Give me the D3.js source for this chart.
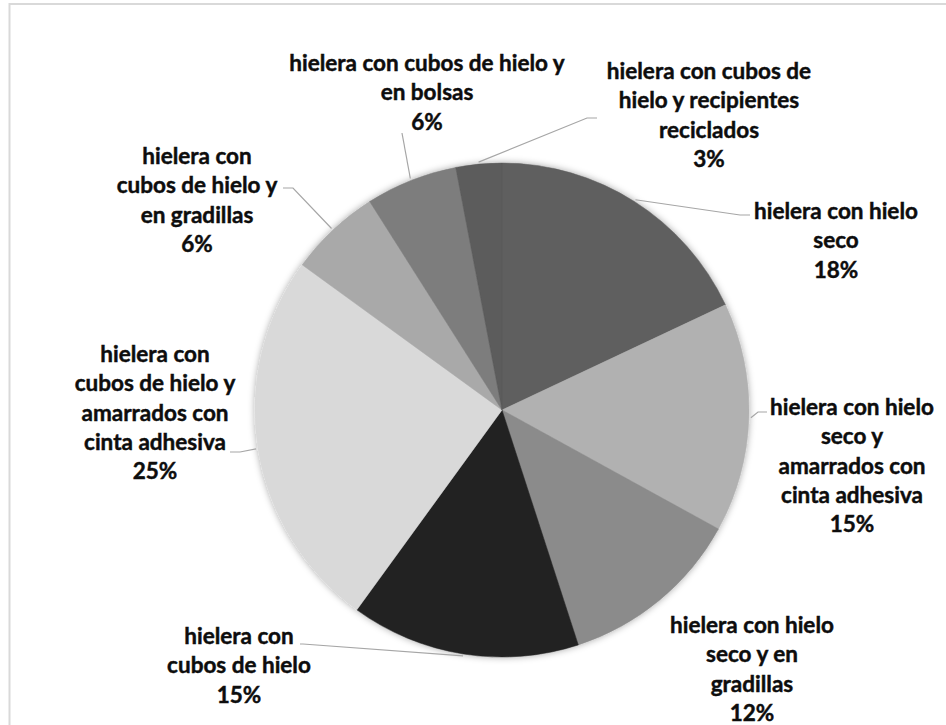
<!DOCTYPE html>
<html>
<head>
<meta charset="utf-8">
<script src="https://cdn.jsdelivr.net/npm/d3@7"></script>
<style>
  html, body { margin: 0; padding: 0; background: #fff; }
  svg { display: block; }
</style>
</head>
<body>
<svg id="chart" width="946" height="725"></svg>
<script>
// Categories, in clockwise order starting at 12 o'clock
const categories = [
  ["hielera con hielo", "seco"],
  ["hielera con hielo", "seco y", "amarrados con", "cinta adhesiva"],
  ["hielera con hielo", "seco y en", "gradillas"],
  ["hielera con", "cubos de hielo"],
  ["hielera con", "cubos de hielo y", "amarrados con", "cinta adhesiva"],
  ["hielera con", "cubos de hielo y", "en gradillas"],
  ["hielera con cubos de hielo y", "en bolsas"],
  ["hielera con cubos de", "hielo y recipientes", "reciclados"]
];
// Share of each category, percent
const values = [18, 15, 12, 15, 25, 6, 6, 3];
// Percentage labels
const valueLabels = ["18%", "15%", "12%", "15%", "25%", "6%", "6%", "3%"];

// Slice greys
const sliceColors = ["#5f5f5f", "#b1b1b1", "#8b8b8b", "#232323", "#d9d9d9", "#a9a9a9", "#7d7d7d", "#5b5b5b"];

// Label layout: text centre x, centre y of first line, leader elbow and end (null = no leader)
const labelLayout = [
  { x: 836, y: 212, elbow: [740, 215], end: [750, 215] },
  { x: 852, y: 408, elbow: [758, 412], end: [767, 412] },
  { x: 752, y: 626, elbow: null, end: null },
  { x: 239, y: 637, elbow: [303, 644], end: [300, 644] },
  { x: 155, y: 355, elbow: [240, 452], end: [230, 452] },
  { x: 197, y: 157, elbow: [293, 188], end: [283, 188] },
  { x: 427, y: 64,  elbow: [402, 133], end: [402, 133] },
  { x: 709, y: 72,  elbow: [587, 118], end: [597, 118] }
];

const svg = d3.select("#chart");
const cx = 502, cy = 410, radius = 247;
const lineStep = 29.3, fontSize = 22.5;

// Chart area frame
svg.append("rect")
  .attr("x", 9.5).attr("y", 4)
  .attr("width", 980).attr("height", 760)
  .attr("fill", "#fff")
  .attr("stroke", "#d9d9d9")
  .attr("stroke-width", 2);

// Soft shadow around the pie
const defs = svg.append("defs");
const f = defs.append("filter").attr("id", "pieShadow")
  .attr("x", "-10%").attr("y", "-10%").attr("width", "120%").attr("height", "120%");
f.append("feDropShadow")
  .attr("dx", 0).attr("dy", 0)
  .attr("stdDeviation", 3.5)
  .attr("flood-color", "#000")
  .attr("flood-opacity", 0.35);

const pie = d3.pie().sort(null).value(d => d);
const arcs = pie(values);
const arc = d3.arc().innerRadius(0).outerRadius(radius);

const g = svg.append("g").attr("transform", `translate(${cx},${cy})`);

g.append("g").attr("filter", "url(#pieShadow)")
  .selectAll("path")
  .data(arcs)
  .join("path")
  .attr("d", arc)
  .attr("fill", (d, i) => sliceColors[i])
  .attr("stroke", (d, i) => sliceColors[i])
  .attr("stroke-width", 0.5);

// Leader lines from slice edge (mid-angle) to the label
const midAngle = d => (d.startAngle + d.endAngle) / 2;
const edgePoint = (d, r) => [cx + r * Math.sin(midAngle(d)), cy - r * Math.cos(midAngle(d))];

svg.append("g")
  .selectAll("polyline")
  .data(arcs.filter((d, i) => labelLayout[i].elbow))
  .join("polyline")
  .attr("points", d => {
    const L = labelLayout[d.index];
    return [edgePoint(d, radius + 2), L.elbow, L.end].map(p => p.join(",")).join(" ");
  })
  .attr("fill", "none")
  .attr("stroke", "#a6a6a6")
  .attr("stroke-width", 1.2);

// Data labels: category lines followed by the percentage
const labels = svg.append("g")
  .attr("font-family", "Lato, 'Open Sans', sans-serif")
  .attr("font-weight", "bold")
  .attr("font-size", fontSize)
  .attr("fill", "#0d0d0d")
  .attr("stroke", "#0d0d0d")
  .attr("stroke-width", 0.45)
  .attr("text-anchor", "middle");

arcs.forEach((d, i) => {
  const L = labelLayout[i];
  const lines = categories[i].concat([valueLabels[i]]);
  const t = labels.append("text");
  lines.forEach((s, k) => {
    t.append("tspan")
      .attr("x", L.x)
      .attr("y", L.y + 7 + k * lineStep)
      .text(s);
  });
});
</script>
</body>
</html>
